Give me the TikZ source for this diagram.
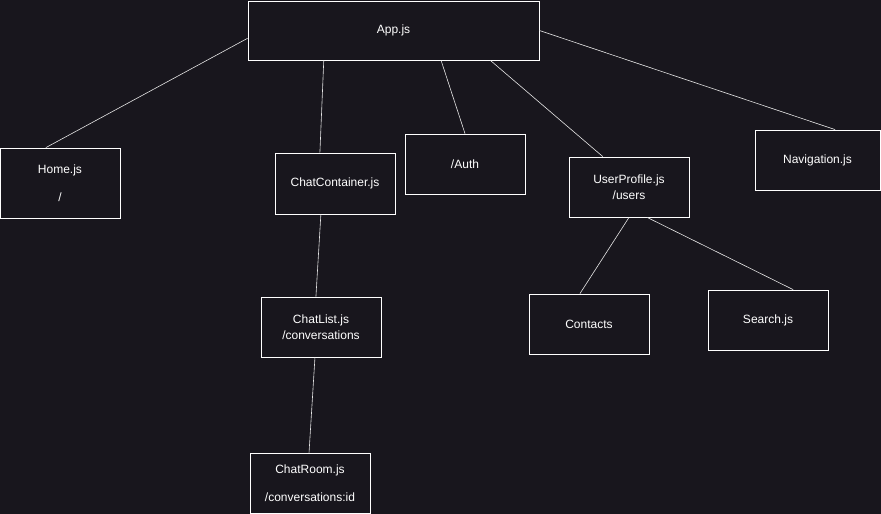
\documentclass[tikz,border=0pt]{standalone}
\usepackage{fontspec}
\setmainfont{Liberation Sans}
\usepackage{tikz}
\usetikzlibrary{calc}
\definecolor{bgdark}{RGB}{24,22,29}

\begin{document}
\begin{tikzpicture}[x=1pt,y=-1pt,
  comp node/.style={rectangle,draw=white,line width=0.8pt,text=white,fill=bgdark,
    font=\fontsize{12}{16}\selectfont,align=center,inner sep=0pt,
    minimum width=120pt,minimum height=60pt},
  link/.style={draw=white!90!black,line width=0.6pt}]

  \fill[bgdark] (0,0) rectangle (881,514);
  \useasboundingbox (0,0) rectangle (881,514);

  \node[comp node,minimum width=291pt,minimum height=59pt] (app) at (393.5,30.5) {App.js};
  \node[comp node,minimum height=70pt] (home) at (60,183) {Home.js\\[12pt]/};
  \node[comp node,minimum height=61pt] (chatc) at (335,183.5) {ChatContainer.js};
  \node[comp node] (auth) at (465,164) {/Auth};
  \node[comp node] (user) at (629,187) {UserProfile.js\\/users};
  \node[comp node,minimum width=125pt] (nav) at (817.5,160) {Navigation.js};
  \node[comp node] (chatl) at (321,327) {ChatList.js\\/conversations};
  \node[comp node] (contacts) at (589,324) {Contacts};
  \node[comp node] (search) at (768,320) {Search.js};
  \node[comp node] (room) at (310,483) {ChatRoom.js\\[12pt]/conversations:id};

  % links from App.js
  \draw[link] ($(app.north west)!0.63!(app.south west)$) -- ($(home.north west)!0.383!(home.north east)$);
  \draw[link] ($(app.south west)!0.261!(app.south east)$) -- ($(chatc.north west)!0.375!(chatc.north east)$);
  \draw[link] ($(app.south west)!0.663!(app.south east)$) -- (auth.north);
  \draw[link] ($(app.south west)!0.832!(app.south east)$) -- ($(user.north west)!0.283!(user.north east)$);
  \draw[link] (app.east) -- ($(nav.north west)!0.64!(nav.north east)$);

  % chat branch
  \draw[link] ($(chatc.south west)!0.383!(chatc.south east)$) -- ($(chatl.north west)!0.458!(chatl.north east)$);
  \draw[link] ($(chatl.south west)!0.45!(chatl.south east)$) -- ($(room.north west)!0.492!(room.north east)$);

  % user branch
  \draw[link] (user.south) -- ($(contacts.north west)!0.425!(contacts.north east)$);
  \draw[link] ($(user.south west)!0.65!(user.south east)$) -- ($(search.north west)!0.708!(search.north east)$);
\end{tikzpicture}
\end{document}
